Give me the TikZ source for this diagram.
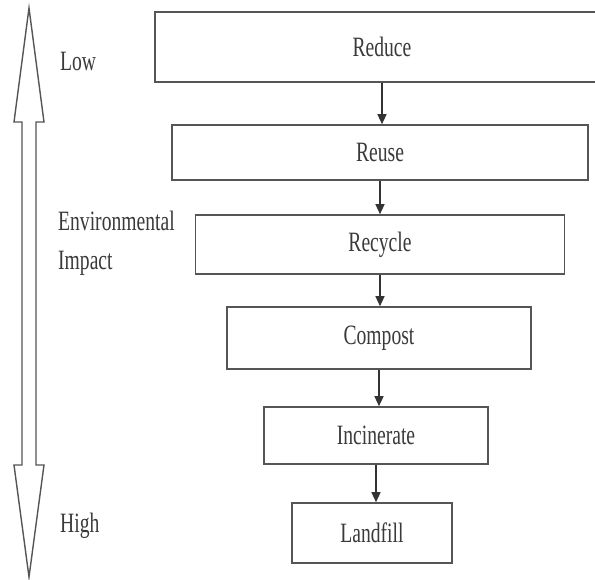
\documentclass[tikz,border=0pt]{standalone}
\usepackage{fontspec}
\setmainfont{Liberation Serif}
\newfontfamily\narrowserif{Liberation Serif}[FakeStretch=0.70]
\usepackage{tikz}
\usetikzlibrary{arrows.meta, positioning, calc}
\definecolor{boxgray}{HTML}{555555}
\definecolor{textgray}{HTML}{3A3A3A}
\tikzset{
	wastenode/.style={
			shape=rectangle,
			draw=boxgray,
			line width=1.6pt,
			fill=white,
			inner sep=0pt,
			text=textgray,
			font=\narrowserif\fontsize{28}{30}\selectfont
		},
	sidetext/.style={
			anchor=west,
			inner sep=0pt,
			align=left,
			text=textgray,
			font=\narrowserif\fontsize{28}{39}\selectfont
		},
	steparrow/.style={
			draw=black!80,
			line width=1.3pt,
			-{Triangle[length=10pt,width=9pt]}
		}
}
\begin{document}
\begin{tikzpicture}[x=1pt, y=-1pt]
	\clip (0,0) rectangle (595,579);
	\fill[white] (0,0) rectangle (595,579);

	% impact arrow on the left
	\draw[boxgray, line width=1.4pt, line join=miter]
		(29,8) -- (44,122) -- (36,122) -- (36,465) -- (44,465) -- (29,577)
		-- (14,465) -- (22,465) -- (22,122) -- (14,122) -- cycle;

	\node[sidetext] (low) at (60,61) {Low};
	\node[sidetext] (impact) at (58,243) {Environmental\\Impact};
	\node[sidetext] (high) at (60,526) {High};

	% hierarchy boxes
	\node[wastenode, minimum width=454pt, minimum height=70pt] (reduce) at (382,47) {Reduce};
	\node[wastenode, minimum width=416pt, minimum height=55pt] (reuse) at (380,152.5) {Reuse};
	\node[wastenode, minimum width=369pt, minimum height=59pt] (recycle) at (380,244.5) {Recycle};
	\node[wastenode, minimum width=304pt, minimum height=62pt] (compost) at (379,338) {Compost};
	\node[wastenode, minimum width=224pt, minimum height=57pt] (incinerate) at (376,435.5) {Incinerate};
	\node[wastenode, minimum width=160pt, minimum height=60pt] (landfill) at (372,533) {Landfill};

	\draw[steparrow] (reduce.south) -- (reduce.south |- reuse.north);
	\draw[steparrow] (reuse.south) -- (reuse.south |- recycle.north);
	\draw[steparrow] (recycle.south) -- (recycle.south |- compost.north);
	\draw[steparrow] (compost.south) -- (compost.south |- incinerate.north);
	\draw[steparrow] (incinerate.south) -- (incinerate.south |- landfill.north);
\end{tikzpicture}
\end{document}
